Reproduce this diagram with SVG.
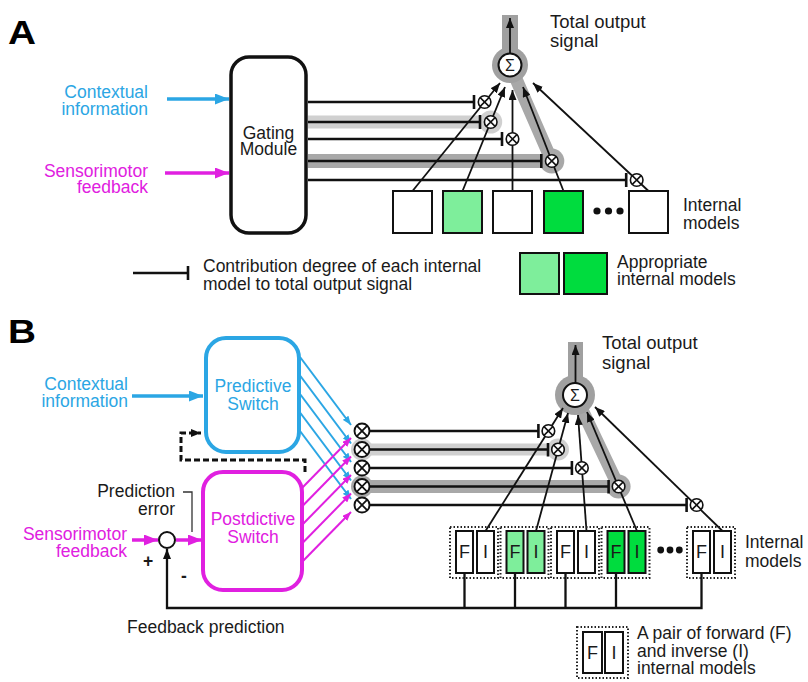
<svg xmlns="http://www.w3.org/2000/svg" width="808" height="682" viewBox="0 0 808 682">
<style>
text{font-family:"Liberation Sans",Arial,Helvetica,sans-serif;font-size:17.5px;fill:#1a1a1a}
.cy{fill:#2ba6e4}
.mg{fill:#e020e0}
.lbl{font-weight:bold;font-size:33px;fill:#000}
.big{font-size:18.5px}
.ln{stroke:#111;stroke-width:2.3;fill:none}
.thin{stroke:#111;stroke-width:1.8;fill:none}
.box{fill:#fff;stroke:#111;stroke-width:2}
.lg{fill:#7eee9b}
.dg{fill:#00dc3e}
.dot{fill:none;stroke:#222;stroke-width:2;stroke-dasharray:1.5 2}
.b1{stroke:#d0d0d0;fill:none}
.b2{stroke:#a8a8a8;fill:none}
.h1{fill:#d0d0d0}
.h2{fill:#a8a8a8}
.h3{fill:#a0a0a0}
.cyl{stroke:#2ba6e4;fill:none}
.mgl{stroke:#e020e0;fill:none}
.sum{fill:#fff;stroke:#111;stroke-width:2}
</style>
<defs>
<marker id="ahK" viewBox="0 0 10 8" refX="10" refY="4" markerWidth="10" markerHeight="8" markerUnits="userSpaceOnUse" orient="auto"><path d="M0,0L10,4L0,8z" fill="#111"/></marker>
<marker id="ahC" viewBox="0 0 14 11" refX="14" refY="5.5" markerWidth="14" markerHeight="11" markerUnits="userSpaceOnUse" orient="auto"><path d="M0,0L14,5.5L0,11z" fill="#2ba6e4"/></marker>
<marker id="ahM" viewBox="0 0 14 11" refX="14" refY="5.5" markerWidth="14" markerHeight="11" markerUnits="userSpaceOnUse" orient="auto"><path d="M0,0L14,5.5L0,11z" fill="#e020e0"/></marker>
<marker id="ahCs" viewBox="0 0 9 7" refX="9" refY="3.5" markerWidth="9" markerHeight="7" markerUnits="userSpaceOnUse" orient="auto"><path d="M0,0L9,3.5L0,7z" fill="#2ba6e4"/></marker>
<marker id="ahMs" viewBox="0 0 9 7" refX="9" refY="3.5" markerWidth="9" markerHeight="7" markerUnits="userSpaceOnUse" orient="auto"><path d="M0,0L9,3.5L0,7z" fill="#e020e0"/></marker>
<marker id="tee" viewBox="0 0 4 14" refX="2" refY="7" markerWidth="4" markerHeight="14" markerUnits="userSpaceOnUse" orient="auto"><path d="M2,0V14" stroke="#111" stroke-width="2.6"/></marker>
<g id="ox"><circle r="6.3" fill="#fff" stroke="#111" stroke-width="1.6"/><path d="M-4.4,-4.4L4.4,4.4M-4.4,4.4L4.4,-4.4" stroke="#111" stroke-width="1.5"/></g>
<g id="oxL"><circle r="7.5" fill="#fff" stroke="#111" stroke-width="1.9"/><path d="M-5.3,-5.3L5.3,5.3M-5.3,5.3L5.3,-5.3" stroke="#111" stroke-width="1.8"/></g>
</defs>

<!-- Panel labels -->
<text class="lbl" x="8" y="44" textLength="28" lengthAdjust="spacingAndGlyphs">A</text>
<text class="lbl" x="8" y="343" textLength="28" lengthAdjust="spacingAndGlyphs">B</text>

<!-- ================= PANEL A ================= -->
<g id="A-highlight">
<path class="b1" stroke-width="13" d="M308,122H490.7"/>
<circle class="h1" cx="490.7" cy="122" r="11.5"/>
<path class="b2" stroke-width="14" d="M308,161H551.8"/>
<circle class="h2" cx="551.8" cy="161" r="12.5"/>
<path class="b2" stroke-width="13" stroke-linecap="round" d="M551.8,161L510,65"/>
<rect class="h3" x="502" y="15" width="16" height="50"/>
<circle class="h3" cx="510" cy="65" r="18"/>
</g>

<g id="A-connectors">
<path class="cyl" stroke-width="3.5" d="M167,99H229" marker-end="url(#ahC)"/>
<path class="mgl" stroke-width="3.5" d="M165,173H229" marker-end="url(#ahM)"/>
<path class="ln" d="M308,102H474" marker-end="url(#tee)"/>
<path class="ln" d="M308,122H480" marker-end="url(#tee)"/>
<path class="ln" d="M308,139H502" marker-end="url(#tee)"/>
<path class="ln" d="M308,161H541.3" marker-end="url(#tee)"/>
<path class="ln" d="M308,180H626.2" marker-end="url(#tee)"/>
<path class="thin" d="M412.5,191L500,83" marker-end="url(#ahK)"/>
<path class="thin" d="M462.5,191L505,87" marker-end="url(#ahK)"/>
<path class="thin" d="M512.5,191V90" marker-end="url(#ahK)"/>
<path class="thin" d="M563.5,191L523,87" marker-end="url(#ahK)"/>
<path class="thin" d="M648.5,191L533,83" marker-end="url(#ahK)"/>
<path class="thin" d="M510,53V18" marker-end="url(#ahK)"/>
</g>

<g id="A-contextual">
<text class="cy" x="148" y="98" text-anchor="end">Contextual</text>
<text class="cy" x="148" y="115" text-anchor="end">information</text>
</g>
<g id="A-sensorimotor">
<text class="mg" x="148" y="177" text-anchor="end">Sensorimotor</text>
<text class="mg" x="148" y="193" text-anchor="end">feedback</text>
</g>
<g id="A-gating">
<rect x="231" y="57" width="75" height="176" rx="18" fill="#fff" stroke="#111" stroke-width="3.5"/>
<text x="268.5" y="139" text-anchor="middle">Gating</text>
<text x="268.5" y="155" text-anchor="middle">Module</text>
</g>
<g id="A-crosses">
<use href="#ox" x="484.6" y="102"/>
<use href="#ox" x="490.7" y="122"/>
<use href="#ox" x="512.5" y="139"/>
<use href="#ox" x="551.8" y="161"/>
<use href="#ox" x="636.7" y="180"/>
</g>
<g id="A-sum">
<circle class="sum" cx="510" cy="65" r="11.5"/>
<text x="510" y="71" text-anchor="middle" style="font-size:16px">Σ</text>
<text class="big" x="550" y="28">Total output</text>
<text class="big" x="550" y="47">signal</text>
</g>
<g id="A-models">
<rect class="box" x="393" y="191" width="39" height="42"/>
<rect class="box lg" x="443" y="191" width="39" height="42"/>
<rect class="box" x="493" y="191" width="39" height="42"/>
<rect class="box dg" x="544" y="191" width="39" height="42"/>
<circle cx="597" cy="211" r="3.6" fill="#111"/>
<circle cx="608.5" cy="211" r="3.6" fill="#111"/>
<circle cx="620" cy="211" r="3.6" fill="#111"/>
<rect class="box" x="629" y="191" width="39" height="42"/>
<text x="683" y="211">Internal</text>
<text x="683" y="229">models</text>
</g>
<g id="A-legend">
<path class="ln" d="M133,273H188" marker-end="url(#tee)"/>
<text x="203" y="272">Contribution degree of each internal</text>
<text x="203" y="290">model to total output signal</text>
<rect class="box lg" x="520" y="253" width="39" height="41"/>
<rect class="box dg" x="564" y="253" width="43" height="41"/>
<text x="617" y="268">Appropriate</text>
<text x="617" y="285">internal models</text>
</g>

<!-- ================= PANEL B ================= -->
<g id="B-highlight">
<path class="b1" stroke-width="12" d="M362,449.5H558"/>
<circle class="h1" cx="362" cy="449.5" r="11"/>
<circle class="h1" cx="558" cy="449.5" r="11"/>
<path class="b2" stroke-width="13" d="M362,486.5H618.6"/>
<circle class="h2" cx="362" cy="486.5" r="11"/>
<circle class="h2" cx="618.6" cy="486.5" r="12"/>
<path class="b2" stroke-width="13" stroke-linecap="round" d="M618.6,486.5L575,395"/>
<rect class="h3" x="568" y="342" width="15" height="53"/>
<circle class="h3" cx="575" cy="395" r="20"/>
</g>

<g id="B-connectors">
<path class="cyl" stroke-width="3.5" d="M132,396H203" marker-end="url(#ahC)"/>
<g class="cyl" stroke-width="2" marker-end="url(#ahCs)">
<path d="M300,357L351,425"/>
<path d="M300,375.5L351,443.5"/>
<path d="M300,394L351,462"/>
<path d="M300,412.5L351,480.5"/>
<path d="M300,431L351,499"/>
</g>
<g class="mgl" stroke-width="2" marker-end="url(#ahMs)">
<path d="M302,488L351,438"/>
<path d="M302,506.5L351,456.5"/>
<path d="M302,525L351,475"/>
<path d="M302,543.5L351,493.5"/>
<path d="M302,562L351,512"/>
</g>
<path class="ln" d="M370,431H538.4" marker-end="url(#tee)"/>
<path class="ln" d="M370,449.5H548" marker-end="url(#tee)"/>
<path class="ln" d="M370,468H571.9" marker-end="url(#tee)"/>
<path class="ln" d="M370,486.5H608.6" marker-end="url(#tee)"/>
<path class="ln" d="M370,505H686.6" marker-end="url(#tee)"/>
<path class="thin" d="M485.5,531L563,408" marker-end="url(#ahK)"/>
<path class="thin" d="M536,531L568,413" marker-end="url(#ahK)"/>
<path class="thin" d="M586.5,531L578,415" marker-end="url(#ahK)"/>
<path class="thin" d="M637,531L587,412" marker-end="url(#ahK)"/>
<path class="thin" d="M722.5,531L595,407" marker-end="url(#ahK)"/>
<path class="thin" d="M575.5,383V345" marker-end="url(#ahK)"/>
<path d="M305,472V460H181V433H201" fill="none" stroke="#111" stroke-width="3" stroke-dasharray="6 3" marker-end="url(#ahK)"/>
<path class="mgl" stroke-width="3.5" d="M132,540H158" marker-end="url(#ahM)"/>
<path class="mgl" stroke-width="3.5" d="M176,540H202" marker-end="url(#ahM)"/>
<path class="ln" d="M701.5,573V608H167V549" marker-end="url(#ahK)"/>
<path class="ln" d="M464.5,573V608M515,573V608M565.5,573V608M616,573V608"/>
<path d="M183,492H192V532" fill="none" stroke="#333" stroke-width="1.3"/>
</g>

<g id="B-contextual">
<text class="cy" x="128" y="390" text-anchor="end">Contextual</text>
<text class="cy" x="128" y="407" text-anchor="end">information</text>
</g>
<g id="B-predictive">
<rect x="206" y="338" width="93" height="114" rx="20" fill="#fff" stroke="#2ba6e4" stroke-width="4"/>
<text class="cy" x="253" y="392" text-anchor="middle">Predictive</text>
<text class="cy" x="253" y="410" text-anchor="middle">Switch</text>
</g>
<g id="B-postdictive">
<rect x="203" y="472" width="99" height="118" rx="20" fill="#fff" stroke="#e020e0" stroke-width="4"/>
<text class="mg" x="253" y="525" text-anchor="middle">Postdictive</text>
<text class="mg" x="253" y="543" text-anchor="middle">Switch</text>
</g>
<g id="B-sensorimotor">
<text class="mg" x="127" y="540" text-anchor="end">Sensorimotor</text>
<text class="mg" x="127" y="557" text-anchor="end">feedback</text>
</g>
<g id="B-comparator">
<circle cx="167" cy="540" r="8" fill="#fff" stroke="#111" stroke-width="2"/>
<text x="175" y="497" text-anchor="end">Prediction</text>
<text x="175" y="515" text-anchor="end">error</text>
<text x="148" y="567" text-anchor="middle" style="font-weight:bold">+</text>
<text x="184" y="582" text-anchor="middle" style="font-weight:bold">-</text>
<text x="127" y="633">Feedback prediction</text>
</g>
<g id="B-crosses">
<use href="#oxL" x="362" y="431"/>
<use href="#oxL" x="362" y="449.5"/>
<use href="#oxL" x="362" y="468"/>
<use href="#oxL" x="362" y="486.5"/>
<use href="#oxL" x="362" y="505"/>
<use href="#ox" x="548.4" y="431"/>
<use href="#ox" x="558" y="449.5"/>
<use href="#ox" x="581.9" y="468"/>
<use href="#ox" x="618.6" y="486.5"/>
<use href="#ox" x="696.6" y="505"/>
</g>
<g id="B-sum">
<circle class="sum" cx="575" cy="395" r="12"/>
<text x="575" y="401" text-anchor="middle" style="font-size:16px">Σ</text>
<text class="big" x="602" y="349">Total output</text>
<text class="big" x="602" y="369">signal</text>
</g>
<g id="B-models">
<g id="B-pair1">
<rect class="dot" x="450" y="527" width="48" height="51"/>
<rect class="box" x="456" y="531" width="17" height="42"/>
<rect class="box" x="477" y="531" width="17" height="42"/>
<text x="464.5" y="558" text-anchor="middle" style="font-size:18px">F</text>
<text x="485.5" y="558" text-anchor="middle" style="font-size:18px">I</text>
</g>
<g id="B-pair2">
<rect class="dot" x="500.5" y="527" width="48" height="51"/>
<rect class="box lg" x="506.5" y="531" width="17" height="42"/>
<rect class="box lg" x="527.5" y="531" width="17" height="42"/>
<text x="515" y="558" text-anchor="middle" style="font-size:18px">F</text>
<text x="536" y="558" text-anchor="middle" style="font-size:18px">I</text>
</g>
<g id="B-pair3">
<rect class="dot" x="551" y="527" width="48" height="51"/>
<rect class="box" x="557" y="531" width="17" height="42"/>
<rect class="box" x="578" y="531" width="17" height="42"/>
<text x="565.5" y="558" text-anchor="middle" style="font-size:18px">F</text>
<text x="586.5" y="558" text-anchor="middle" style="font-size:18px">I</text>
</g>
<g id="B-pair4">
<rect class="dot" x="601.5" y="527" width="48" height="51"/>
<rect class="box dg" x="607.5" y="531" width="17" height="42"/>
<rect class="box dg" x="628.5" y="531" width="17" height="42"/>
<text x="616" y="558" text-anchor="middle" style="font-size:18px">F</text>
<text x="637" y="558" text-anchor="middle" style="font-size:18px">I</text>
</g>
<circle cx="660.7" cy="550" r="3.4" fill="#111"/>
<circle cx="670" cy="550" r="3.4" fill="#111"/>
<circle cx="679.3" cy="550" r="3.4" fill="#111"/>
<g id="B-pair5">
<rect class="dot" x="687" y="527" width="48" height="51"/>
<rect class="box" x="693" y="531" width="17" height="42"/>
<rect class="box" x="714" y="531" width="17" height="42"/>
<text x="701.5" y="558" text-anchor="middle" style="font-size:18px">F</text>
<text x="722.5" y="558" text-anchor="middle" style="font-size:18px">I</text>
</g>
<text x="745" y="548">Internal</text>
<text x="745" y="567">models</text>
</g>
<g id="B-legend">
<rect class="dot" x="577" y="627" width="51" height="51"/>
<rect class="box" x="583" y="632" width="19" height="41"/>
<rect class="box" x="605" y="632" width="18" height="41"/>
<text x="592.5" y="659" text-anchor="middle" style="font-size:18px">F</text>
<text x="614" y="659" text-anchor="middle" style="font-size:18px">I</text>
<text x="637" y="639">A pair of forward (F)</text>
<text x="637" y="657">and inverse (I)</text>
<text x="637" y="674">internal models</text>
</g>
</svg>
